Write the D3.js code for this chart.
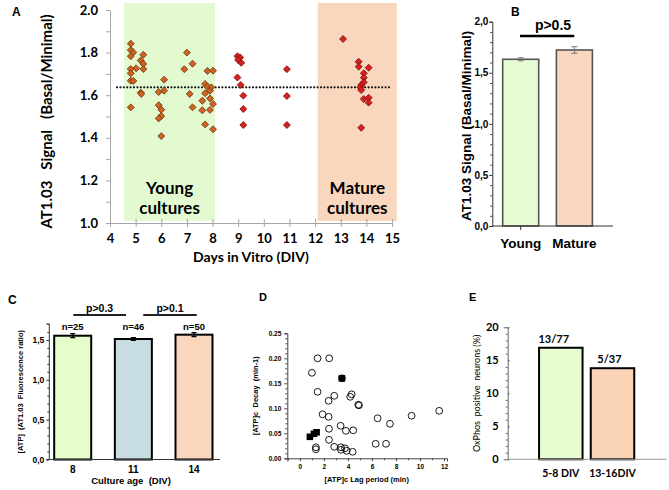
<!DOCTYPE html>
<html><head><meta charset="utf-8">
<script src="https://cdn.jsdelivr.net/npm/d3@7"></script>
<style>body{margin:0;background:#fff} svg{display:block}</style>
</head><body>
<svg id="c" width="669" height="490"></svg>
<script>
// ---------- Panel A data ----------
const youngDays = [4.81,4.81,4.91,4.81,5.30,5.20,5.30,5.30,5.02,4.81,4.81,4.81,4.91,5.20,5.22,4.81,
  6.11,6.11,5.90,5.90,6.00,6.00,5.90,6.00,
  7.00,7.22,6.90,7.11,7.22,
  7.80,8.02,7.71,7.80,7.95,7.71,7.90,7.60,7.90,8.02,7.60,7.90,7.71,8.02];
const youngSignal = [1.842,1.812,1.801,1.783,1.790,1.763,1.747,1.723,1.726,1.723,1.703,1.668,1.667,1.612,1.606,1.543,
  1.673,1.621,1.615,1.553,1.532,1.502,1.491,1.408,
  1.800,1.748,1.722,1.606,1.543,
  1.714,1.715,1.653,1.640,1.637,1.609,1.621,1.574,1.585,1.559,1.529,1.531,1.463,1.440];
const midDays = [8.97,9.08,9.00,9.12,8.97,9.10,9.20,9.20,9.20,10.90,10.90,10.90];
const midSignal = [1.783,1.777,1.765,1.752,1.683,1.648,1.598,1.535,1.460,1.722,1.596,1.460];
const matureDays = [13.09,13.70,13.70,14.09,13.90,13.90,13.90,13.80,13.77,13.80,13.90,14.09,14.09,13.80];
const matureSignal = [1.864,1.757,1.734,1.729,1.703,1.682,1.661,1.648,1.637,1.624,1.582,1.588,1.565,1.447];
const meanSignal = 1.637;
const aTicksY = [1.0,1.2,1.4,1.6,1.8,2.0];
const aTicksX = [4,5,6,7,8,9,10,11,12,13,14,15];
const youngRange = [4.55, 8.1];
const matureRange = [12.1, 15.19];

// ---------- Panel B data ----------
const bGroups = ["Young","Mature"];
const bMeans = [1.632, 1.723];
const bErr = [0.015, 0.032];
const bTicks = [0,0.5,1.0,1.5,2.0];

// ---------- Panel C data ----------
const cAges = ["8","11","14"];
const cMeans = [1.553, 1.512, 1.566];
const cErr = [0.025, 0.018, 0.025];
const cN = ["n=25","n=46","n=50"];
const cTicks = [0,0.5,1.0,1.5];

// ---------- Panel D data ----------
const dLag = [1.47,2.44,1.00,1.47,2.86,2.39,4.31,4.19,4.86,4.92,1.89,2.39,6.47,7.50,9.30,11.60,3.39,2.42,3.83,4.44,2.42,2.86,1.33,1.33,3.42,3.42,3.75,3.90,4.39,6.31,7.17,3.50];
const dDecay = [0.200,0.200,0.171,0.133,0.125,0.115,0.128,0.123,0.107,0.106,0.088,0.083,0.080,0.069,0.085,0.095,0.065,0.059,0.055,0.056,0.037,0.023,0.022,0.018,0.022,0.017,0.020,0.015,0.013,0.029,0.029,0.160];
const dLagFilled = [3.50,0.83,1.17,1.39];
const dDecayFilled = [0.160,0.043,0.049,0.052];
const dTicksX = [0,2,4,6,8,10,12];
const dTicksY = [0,0.05,0.10,0.15,0.20,0.25];

// ---------- Panel E data ----------
const eGroups = ["5-8 DIV","13-16DIV"];
const ePercent = [16.9, 13.8];
const eLabels = ["13/77","5/37"];
const eTicks = [0,5,10,15,20];

const svg = d3.select("#c");
const CAL = "Lato, 'Open Sans', sans-serif";
const ARI = "'Liberation Sans', Arial, sans-serif";
const comma = d => d3.format(".1f")(d).replace(".", ",");

function styleAxis(g, color, font, size, weight) {
  g.select(".domain").attr("stroke", color);
  g.selectAll(".tick line").attr("stroke", color);
  g.selectAll(".tick text").attr("fill", "#000").attr("font-family", font)
    .attr("font-size", size).attr("font-weight", weight || "bold");
}

// =================== PANEL A ===================
const xA = d3.scaleLinear().domain([4, 15]).range([110, 392]);
const yA = d3.scaleLinear().domain([1, 2]).range([223, 10]);
const gA = svg.append("g");
gA.append("rect").attr("x", xA(youngRange[0])).attr("width", xA(youngRange[1]) - xA(youngRange[0]))
  .attr("y", 3).attr("height", 218).attr("fill", "#e3fad1");
gA.append("rect").attr("x", xA(matureRange[0])).attr("width", xA(matureRange[1]) - xA(matureRange[0]))
  .attr("y", 3).attr("height", 218).attr("fill", "#f9d6be");

const axAy = gA.append("g").attr("transform", `translate(${xA(4)},0)`)
  .call(d3.axisLeft(yA).tickValues(aTicksY).tickFormat(d3.format(".1f")).tickSize(4).tickPadding(8));
styleAxis(axAy, "#a6a6a6", CAL, 13);
gA.append("g").attr("transform", `translate(${xA(4)},0)`)
  .call(d3.axisLeft(yA).tickValues(d3.range(1.1, 2.0, 0.2)).tickFormat("").tickSize(4))
  .call(g => { g.select(".domain").remove(); g.selectAll("line").attr("stroke", "#a6a6a6"); });

const axAx = gA.append("g").attr("transform", `translate(0,${yA(1)})`)
  .call(d3.axisBottom(xA).tickValues(aTicksX).tickFormat(d3.format("d")).tickSize(4));
styleAxis(axAx, "#a6a6a6", CAL, 13);
axAx.selectAll(".tick line").attr("y1", -4).attr("y2", 4);
axAx.selectAll(".tick text").attr("y", 11);

gA.append("line").attr("x1", 117).attr("x2", xA(15)).attr("y1", yA(meanSignal)).attr("y2", yA(meanSignal))
  .attr("stroke", "#111").attr("stroke-width", 2.2).attr("stroke-linecap", "round").attr("stroke-dasharray", "0 3.4");

const diamond = d3.symbol().type(d3.symbolSquare).size(24);
function diamonds(xs, ys, fill, stroke) {
  gA.append("g").selectAll("path").data(xs.map((d, i) => [d, ys[i]])).join("path")
    .attr("d", diamond).attr("transform", d => `translate(${xA(d[0])},${yA(d[1])}) rotate(45)`)
    .attr("fill", fill).attr("stroke", stroke).attr("stroke-width", 0.8);
}
diamonds(youngDays, youngSignal, "#cf6420", "#6e3510");
diamonds(midDays, midSignal, "#d7211f", "#80100e");
diamonds(matureDays, matureSignal, "#d7211f", "#80100e");

gA.append("text").attr("x", 12).attr("y", 16).text("A").attr("font-family", ARI).attr("font-weight", "bold").attr("font-size", 12);
gA.append("text").attr("transform", `translate(52,${(yA(1) + yA(2)) / 2 + 5}) rotate(-90)`)
  .attr("text-anchor", "middle").attr("font-family", CAL).attr("font-weight", "bold").attr("font-size", 15).attr("xml:space", "preserve")
  .text("AT1.03   Signal   (Basal/Minimal)");
gA.append("text").attr("x", (xA(4) + xA(15)) / 2).attr("y", 262).attr("text-anchor", "middle")
  .attr("font-family", CAL).attr("font-weight", "bold").attr("font-size", 14).text("Days in Vitro (DIV)");
const labA = [["Young", "cultures", (xA(youngRange[0]) + xA(youngRange[1])) / 2],
              ["Mature", "cultures", (xA(matureRange[0]) + xA(matureRange[1])) / 2]];
labA.forEach(l => {
  const t = gA.append("text").attr("text-anchor", "middle").attr("font-family", CAL).attr("font-weight", "bold").attr("font-size", 17);
  t.append("tspan").attr("x", l[2]).attr("y", 194).text(l[0]);
  t.append("tspan").attr("x", l[2]).attr("y", 214).text(l[1]);
});

// =================== PANEL B ===================
const xB = d3.scalePoint().domain(bGroups).range([520.7, 574.4]);
const yB = d3.scaleLinear().domain([0, 2]).range([226, 21.7]);
const gB = svg.append("g");
const bw = 36;
gB.selectAll("rect").data(bGroups).join("rect")
  .attr("x", d => xB(d) - bw / 2).attr("width", bw)
  .attr("y", (d, i) => yB(bMeans[i])).attr("height", (d, i) => yB(0) - yB(bMeans[i]))
  .attr("fill", (d, i) => ["#e6fdd3", "#f8d6bf"][i]).attr("stroke", "#555").attr("stroke-width", 1.6);
bGroups.forEach((g, i) => {
  const x = xB(g), y1 = yB(bMeans[i] - bErr[i]), y2 = yB(bMeans[i] + bErr[i]);
  gB.append("path").attr("d", `M${x},${y1}V${y2}M${x - 3},${y1}H${x + 3}M${x - 3},${y2}H${x + 3}`)
    .attr("stroke", "#777").attr("fill", "none").attr("stroke-width", 1);
});
const axBy = gB.append("g").attr("transform", "translate(492.3,0)")
  .call(d3.axisLeft(yB).tickValues(bTicks).tickFormat(comma).tickSize(3).tickPadding(1));
styleAxis(axBy, "#333", ARI, 10);
gB.append("g").attr("transform", "translate(492.3,0)")
  .call(d3.axisLeft(yB).tickValues(d3.range(0, 2.0001, 0.1).filter((d, i) => i % 5 !== 0)).tickFormat("").tickSize(2))
  .call(g => { g.select(".domain").remove(); g.selectAll("line").attr("stroke", "#333"); });
gB.append("line").attr("x1", 492.3).attr("x2", 613).attr("y1", yB(0)).attr("y2", yB(0)).attr("stroke", "#333").attr("stroke-width", 1);
gB.append("line").attr("x1", xB("Young")).attr("x2", xB("Young")).attr("y1", yB(0)).attr("y2", yB(0) + 4).attr("stroke", "#333");
gB.selectAll("text.xl").data(bGroups).join("text").attr("class", "xl")
  .attr("x", d => xB(d)).attr("y", 248).attr("text-anchor", "middle")
  .attr("font-family", ARI).attr("font-weight", "bold").attr("font-size", 13.5).text(d => d);
gB.append("line").attr("x1", 520).attr("x2", 574.3).attr("y1", 36).attr("y2", 36).attr("stroke", "#000").attr("stroke-width", 2.6);
gB.append("text").attr("x", 553).attr("y", 30).attr("text-anchor", "middle").attr("font-family", ARI)
  .attr("font-weight", "bold").attr("font-size", 14).text("p>0.5");
gB.append("text").attr("transform", `translate(471,${(yB(0) + yB(2)) / 2 + 2}) rotate(-90)`)
  .attr("text-anchor", "middle").attr("font-family", ARI).attr("font-weight", "bold").attr("font-size", 13.5)
  .text("AT1.03 Signal (Basal/Minimal)");
gB.append("text").attr("x", 511).attr("y", 16).text("B").attr("font-family", ARI).attr("font-weight", "bold").attr("font-size", 12);

// =================== PANEL C ===================
const xC = d3.scalePoint().domain(cAges).range([72.7, 194]);
const yC = d3.scaleLinear().domain([0, 1.7]).range([459.5, 324]);
const gC = svg.append("g");
const cw = 37;
gC.selectAll("rect").data(cAges).join("rect")
  .attr("x", d => xC(d) - cw / 2).attr("width", cw)
  .attr("y", (d, i) => yC(cMeans[i])).attr("height", (d, i) => yC(0) - yC(cMeans[i]))
  .attr("fill", (d, i) => ["#e5fdca", "#c8dde3", "#f9d7bd"][i]).attr("stroke", "#000").attr("stroke-width", 2);
cAges.forEach((g, i) => {
  const x = xC(g), y1 = yC(cMeans[i] - cErr[i]), y2 = yC(cMeans[i] + cErr[i]);
  gC.append("path").attr("d", `M${x},${y1}V${y2}M${x - 2.5},${y1}H${x + 2.5}M${x - 2.5},${y2}H${x + 2.5}`)
    .attr("stroke", "#000").attr("fill", "none").attr("stroke-width", 1.2);
});
const axCy = gC.append("g").attr("transform", "translate(49.3,0)")
  .call(d3.axisLeft(yC).tickValues(cTicks).tickFormat(comma).tickSize(3).tickPadding(2));
styleAxis(axCy, "#333", ARI, 8.5);
axCy.select(".domain").attr("d", `M-3,${yC(1.7)}H0V${yC(0)}H-3`);
gC.append("g").attr("transform", "translate(49.3,0)")
  .call(d3.axisLeft(yC).tickValues(d3.range(0, 1.7001, 0.1).filter((d, i) => i % 5 !== 0)).tickFormat("").tickSize(2))
  .call(g => { g.select(".domain").remove(); g.selectAll("line").attr("stroke", "#333"); });
gC.append("line").attr("x1", 49.3).attr("x2", 220).attr("y1", yC(0)).attr("y2", yC(0)).attr("stroke", "#333");
gC.selectAll("text.xl").data(cAges).join("text").attr("class", "xl")
  .attr("x", d => xC(d)).attr("y", 473).attr("text-anchor", "middle")
  .attr("font-family", ARI).attr("font-weight", "bold").attr("font-size", 10).text(d => d);
gC.selectAll("text.nl").data(cAges).join("text").attr("class", "nl")
  .attr("x", d => xC(d)).attr("y", 330).attr("text-anchor", "middle")
  .attr("font-family", ARI).attr("font-weight", "bold").attr("font-size", 9.5).text((d, i) => cN[i]);
[[73.3, 126, "p>0.3"], [143.3, 196.7, "p>0.1"]].forEach(s => {
  gC.append("line").attr("x1", s[0]).attr("x2", s[1]).attr("y1", 315).attr("y2", 315).attr("stroke", "#222").attr("stroke-width", 2);
  gC.append("text").attr("x", (s[0] + s[1]) / 2).attr("y", 312).attr("text-anchor", "middle")
    .attr("font-family", ARI).attr("font-weight", "bold").attr("font-size", 10.5).text(s[2]);
});
gC.append("text").attr("x", 131).attr("y", 484).attr("text-anchor", "middle").attr("font-family", ARI)
  .attr("font-weight", "bold").attr("font-size", 9.5).attr("xml:space", "preserve").text("Culture age  (DIV)");
gC.append("text").attr("transform", `translate(23,${(yC(0) + yC(1.7)) / 2}) rotate(-90)`)
  .attr("text-anchor", "middle").attr("font-family", ARI).attr("font-weight", "bold").attr("font-size", 7.5)
  .attr("xml:space", "preserve").text("[ATP]  (AT1.03  Fluorescence ratio)");
gC.append("text").attr("x", 8).attr("y", 304).text("C").attr("font-family", ARI).attr("font-weight", "bold").attr("font-size", 12);

// =================== PANEL D ===================
const xD = d3.scaleLinear().domain([-1.05, 12.25]).range([287.3, 447]);
const yD = d3.scaleLinear().domain([0, 0.25]).range([458.3, 333.3]);
const gD = svg.append("g");
const axDx = gD.append("g").attr("transform", `translate(0,${yD(0)})`)
  .call(d3.axisBottom(xD).tickValues(dTicksX).tickFormat(d3.format("d")).tickSize(3).tickPadding(3));
styleAxis(axDx, "#444", ARI, 6.5);
gD.append("g").attr("transform", `translate(0,${yD(0)})`)
  .call(d3.axisBottom(xD).tickValues(d3.range(-1, 12.01, 1).filter(d => d % 2 !== 0)).tickFormat("").tickSize(2))
  .call(g => { g.select(".domain").remove(); g.selectAll("line").attr("stroke", "#444"); });
const axDy = gD.append("g").attr("transform", `translate(${xD(-1.05)},0)`)
  .call(d3.axisLeft(yD).tickValues(dTicksY).tickFormat(d3.format(".2f")).tickSize(3).tickPadding(3));
styleAxis(axDy, "#444", ARI, 6.5);
gD.append("g").attr("transform", `translate(${xD(-1.05)},0)`)
  .call(d3.axisLeft(yD).tickValues(d3.range(0, 0.2501, 0.01).filter((d, i) => i % 5 !== 0)).tickFormat("").tickSize(2))
  .call(g => { g.select(".domain").remove(); g.selectAll("line").attr("stroke", "#444"); });
gD.append("g").selectAll("rect").data(dLagFilled.map((d, i) => [d, dDecayFilled[i]])).join("rect")
  .attr("x", d => xD(d[0]) - 3.3).attr("y", d => yD(d[1]) - 3.3).attr("width", 6.6).attr("height", 6.6).attr("fill", "#000");
gD.append("g").selectAll("circle").data(dLag.map((d, i) => [d, dDecay[i]])).join("circle")
  .attr("cx", d => xD(d[0])).attr("cy", d => yD(d[1])).attr("r", 3.4)
  .attr("fill", "none").attr("stroke", "#000").attr("stroke-width", 0.9);
gD.append("text").attr("x", 366.7).attr("y", 482).attr("text-anchor", "middle").attr("font-family", ARI)
  .attr("font-weight", "bold").attr("font-size", 7.5).text("[ATP]c Lag period (min)");
gD.append("text").attr("transform", `translate(258,${(yD(0) + yD(0.25)) / 2}) rotate(-90)`)
  .attr("text-anchor", "middle").attr("font-family", ARI).attr("font-weight", "bold").attr("font-size", 7.5)
  .attr("xml:space", "preserve").text("[ATP]c  Decay  (min-1)");
gD.append("text").attr("x", 259).attr("y", 301).text("D").attr("font-family", ARI).attr("font-weight", "bold").attr("font-size", 11);

// =================== PANEL E ===================
const xE = d3.scalePoint().domain(eGroups).range([560.8, 612.5]);
const yE = d3.scaleLinear().domain([0, 20]).range([459.3, 327.3]);
const gE = svg.append("g");
const ew = 43.5;
gE.selectAll("rect").data(eGroups).join("rect")
  .attr("x", d => xE(d) - ew / 2).attr("width", ew)
  .attr("y", (d, i) => yE(ePercent[i])).attr("height", (d, i) => yE(0) - yE(ePercent[i]))
  .attr("fill", (d, i) => ["#e5fdd0", "#f9d3b6"][i]).attr("stroke", "#000").attr("stroke-width", 2);
const axEy = gE.append("g").attr("transform", "translate(507.7,0)")
  .call(d3.axisLeft(yE).tickValues(eTicks).tickFormat(d3.format("d")).tickSize(4).tickPadding(5));
styleAxis(axEy, "#666", CAL, 11);
axEy.selectAll(".tick line").attr("x2", 2);
gE.append("g").attr("transform", "translate(507.7,0)")
  .call(d3.axisLeft(yE).tickValues(d3.range(0, 20, 1).filter(d => d % 5 !== 0)).tickFormat("").tickSize(2))
  .call(g => { g.select(".domain").remove(); g.selectAll("line").attr("stroke", "#666"); });
gE.append("line").attr("x1", 507.7).attr("x2", 666.7).attr("y1", yE(0)).attr("y2", yE(0)).attr("stroke", "#999");
gE.selectAll("text.xl").data(eGroups).join("text").attr("class", "xl")
  .attr("x", d => xE(d)).attr("y", 477).attr("text-anchor", "middle")
  .attr("font-family", CAL).attr("font-weight", "bold").attr("font-size", 10.5).text(d => d);
gE.selectAll("text.vl").data(eGroups).join("text").attr("class", "vl")
  .attr("x", (d, i) => xE(d) + [-7, -3][i]).attr("y", (d, i) => yE(ePercent[i]) - 5).attr("text-anchor", "middle")
  .attr("font-family", CAL).attr("font-weight", "bold").attr("font-size", 11).text((d, i) => eLabels[i]);
gE.append("text").attr("transform", `translate(480,${(yE(0) + yE(20)) / 2}) rotate(-90)`)
  .attr("text-anchor", "middle").attr("font-family", CAL).attr("font-size", 9)
  .attr("xml:space", "preserve").text("OxPhos  positive  neurons (%)");
gE.append("text").attr("x", 469).attr("y", 301).text("E").attr("font-family", ARI).attr("font-weight", "bold").attr("font-size", 11);
</script>
</body></html>
